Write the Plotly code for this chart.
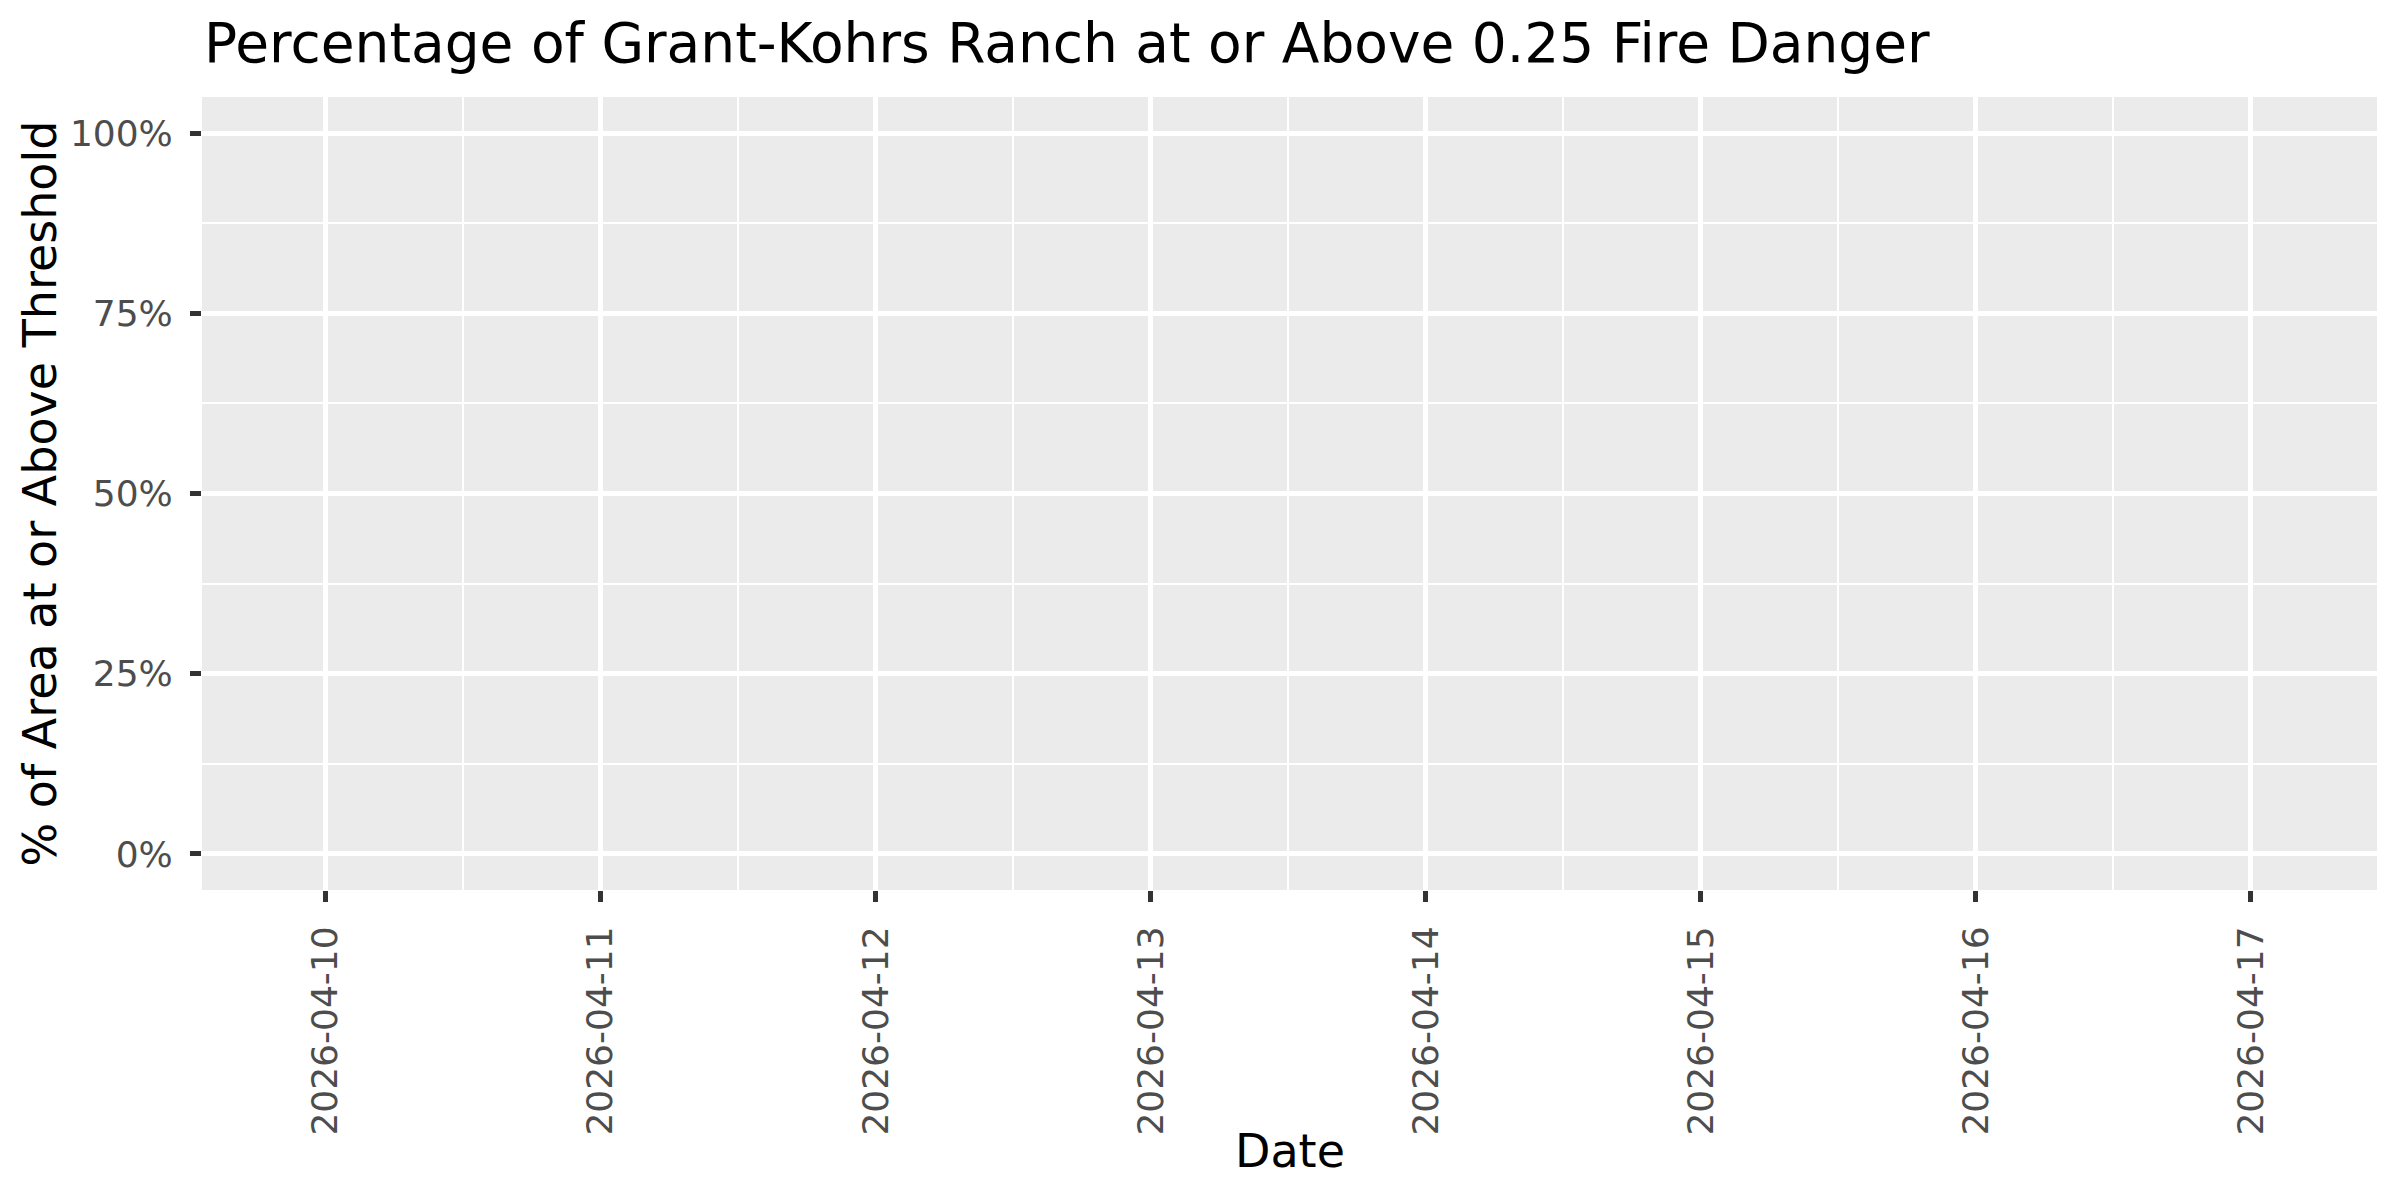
import plotly.graph_objects as go

# Forecast dates and share of the park at/above the threshold (no values were returned)
dates = ["2026-04-10", "2026-04-11", "2026-04-12", "2026-04-13",
         "2026-04-14", "2026-04-15", "2026-04-16", "2026-04-17"]
pct_above = [None, None, None, None, None, None, None, None]

# Axis ticks
y_ticks = [0, 0.25, 0.5, 0.75, 1.0]
y_tick_labels = ["0%", "25%", "50%", "75%", "100%"]
y_minor = [0.125, 0.375, 0.625, 0.875]
x_minor = ["2026-04-10 12:00", "2026-04-11 12:00", "2026-04-12 12:00",
           "2026-04-13 12:00", "2026-04-14 12:00", "2026-04-15 12:00",
           "2026-04-16 12:00"]

title_text = "Percentage of Grant-Kohrs Ranch at or Above 0.25 Fire Danger"

FONT = "DejaVu Sans"

fig = go.Figure()

fig.add_trace(go.Scatter(x=dates, y=pct_above, mode='lines',
                         line=dict(color='black', width=2), showlegend=False))

# the page body has an 8px margin, so the figure is 8px smaller than the window
fig.update_layout(
    width=2392,
    height=1192,
    autosize=False,
    margin=dict(l=194, r=23, t=89, b=310),
    plot_bgcolor='#EBEBEB',
    paper_bgcolor='white',
    font=dict(family=FONT, size=36, color='#4D4D4D'),
    showlegend=False,
)

fig.update_xaxes(
    type='date',
    range=["2026-04-09 13:12", "2026-04-17 11:00"],
    tickmode='array',
    tickvals=dates,
    tickformat='%Y-%m-%d',
    tickangle=-90,
    ticks='outside',
    ticklen=11,
    tickwidth=4.5,
    tickcolor='#333333',
    ticklabelstandoff=10,
    tickfont=dict(family=FONT, size=36, color='#4D4D4D'),
    showgrid=True,
    gridcolor='white',
    gridwidth=4.7,
    zeroline=False,
    showline=False,
    minor=dict(tickmode='array', tickvals=x_minor, showgrid=True,
               gridcolor='white', gridwidth=2.4, ticks=''),
)

fig.update_yaxes(
    range=[-0.05, 1.05],
    tickmode='array',
    tickvals=y_ticks,
    ticktext=y_tick_labels,
    ticks='outside',
    ticklen=11,
    tickwidth=4.5,
    tickcolor='#333333',
    ticklabelstandoff=10,
    tickfont=dict(family=FONT, size=36, color='#4D4D4D'),
    showgrid=True,
    gridcolor='white',
    gridwidth=4.7,
    zeroline=False,
    showline=False,
    minor=dict(tickmode='array', tickvals=y_minor, showgrid=True,
               gridcolor='white', gridwidth=2.4, ticks=''),
)

# Title and axis titles, placed like the ggplot output
fig.add_annotation(text=title_text, xref='paper', yref='paper',
                   x=0, y=1 + (97 - 43) / 793, xanchor='left', yanchor='middle',
                   showarrow=False, font=dict(family=FONT, size=55, color='black'))
fig.add_annotation(text="Date", xref='paper', yref='paper',
                   x=0.5, y=(890 - 1151) / 793, xanchor='center', yanchor='middle',
                   showarrow=False, font=dict(family=FONT, size=46, color='black'))
fig.add_annotation(text="% of Area at or Above Threshold", xref='paper', yref='paper',
                   x=(39 - 202) / 2175, y=0.5, xanchor='center', yanchor='middle',
                   textangle=-90, showarrow=False,
                   font=dict(family=FONT, size=46, color='black'))

fig.write_html("out.html")
